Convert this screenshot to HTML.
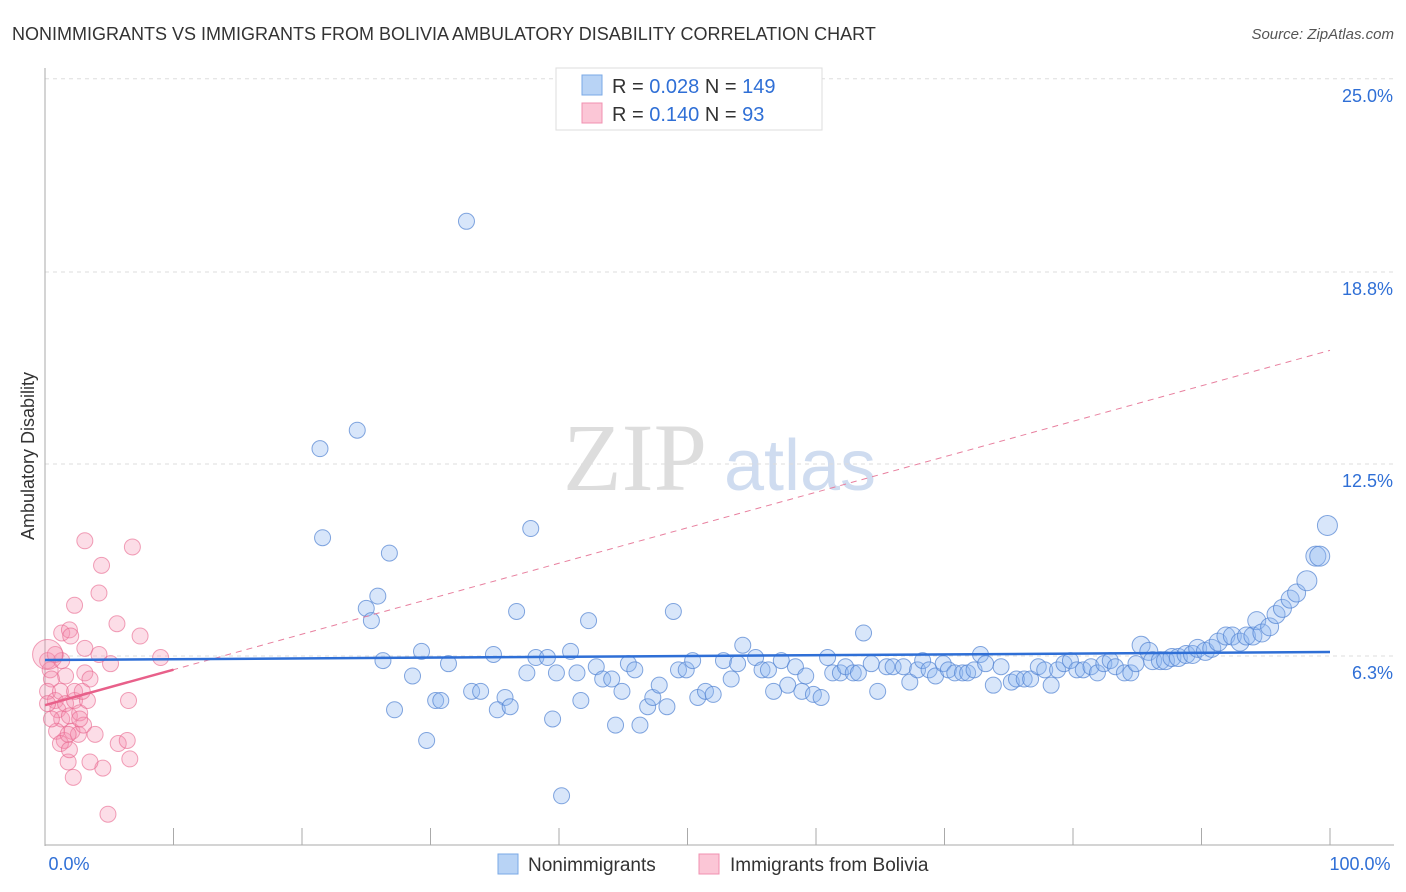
<!DOCTYPE html>
<html><head><meta charset="utf-8">
<style>
body{margin:0;background:#fff;font-family:"Liberation Sans",sans-serif;}
svg{display:block}
</style></head>
<body>
<svg id="chart" width="1406" height="892" xmlns="http://www.w3.org/2000/svg">
<text x="12" y="40" font-size="18" fill="#333">NONIMMIGRANTS VS IMMIGRANTS FROM BOLIVIA AMBULATORY DISABILITY CORRELATION CHART</text>
<text x="1394" y="39" font-size="15" fill="#555" font-style="italic" text-anchor="end">Source: ZipAtlas.com</text>
<text x="0" y="0" transform="translate(34,456) rotate(-90)" font-size="18" fill="#333" text-anchor="middle">Ambulatory Disability</text>
<g>
<text x="635" y="490" font-size="96" fill="#ddd" font-family="Liberation Serif" text-anchor="middle">ZIP</text>
<text x="800" y="490" font-size="72" fill="#cfdcf0" text-anchor="middle">atlas</text>
</g>
<g id="grid"></g>
<g id="axes"></g>
<g id="pink"></g>
<g id="blue"></g>
<g id="lines"></g>
<g>
<rect x="556" y="68" width="266" height="62" fill="#fff" stroke="#ddd"/>
<rect x="582" y="75" width="20" height="20" fill="#b8d3f5" stroke="#7aa8e6"/>
<rect x="582" y="103" width="20" height="20" fill="#fbc6d6" stroke="#f090b0"/>
<text x="612" y="93" font-size="20" fill="#333">R = <tspan fill="#2f6fd6">0.028</tspan>   N = <tspan fill="#2f6fd6">149</tspan></text>
<text x="612" y="121" font-size="20" fill="#333">R =  <tspan fill="#2f6fd6">0.140</tspan>   N =   <tspan fill="#2f6fd6">93</tspan></text>
</g>
<g>
<rect x="498" y="854" width="20" height="20" fill="#b8d3f5" stroke="#7aa8e6"/>
<text x="528" y="871" font-size="19" fill="#333">Nonimmigrants</text>
<rect x="699" y="854" width="20" height="20" fill="#fbc6d6" stroke="#f090b0"/>
<text x="730" y="871" font-size="19" fill="#333">Immigrants from Bolivia</text>
</g>
</svg>
<script>
const yTicks=[6.3,12.5,18.8,25.0];
const yTickLabels=["6.3%","12.5%","18.8%","25.0%"];
const xTickLabels=["0.0%","100.0%"];
const blueX=[32.8,21.4,24.3,21.6,37.8,26.8,25.9,25.0,25.4,36.7,42.3,48.9,26.3,29.3,31.4,28.6,27.2,29.7,30.4,30.8,33.2,33.9,34.9,35.8,35.2,36.2,37.5,38.2,39.1,39.8,39.5,40.2,40.9,41.4,41.7,42.9,43.4,44.1,44.9,44.4,46.3,45.4,45.9,46.9,47.3,47.8,48.4,49.3,49.9,50.4,50.8,51.4,52.0,52.8,53.4,53.9,54.3,55.3,55.8,56.3,56.7,57.3,57.8,58.4,58.9,59.2,59.8,60.4,60.9,61.3,61.9,62.3,62.9,63.3,63.7,64.3,64.8,65.5,66.0,66.8,67.3,67.9,68.3,68.8,69.3,69.9,70.3,70.8,71.4,71.8,72.3,72.8,73.2,73.8,74.4,75.2,75.6,76.2,76.7,77.3,77.8,78.3,78.8,79.3,79.8,80.3,80.8,81.4,81.9,82.4,82.9,83.3,84.0,84.5,84.9,85.3,85.9,86.2,86.8,87.2,87.7,88.2,88.8,89.3,89.7,90.3,90.8,91.3,91.9,92.4,93.0,93.5,94.0,94.3,94.7,95.3,95.8,96.3,96.9,97.4,98.2,98.9,99.2,99.8];
const blueY=[20.4,13.0,13.6,10.1,10.4,9.6,8.2,7.8,7.4,7.7,7.4,7.7,6.1,6.4,6.0,5.6,4.5,3.5,4.8,4.8,5.1,5.1,6.3,4.9,4.5,4.6,5.7,6.2,6.2,5.7,4.2,1.7,6.4,5.7,4.8,5.9,5.5,5.5,5.1,4.0,4.0,6.0,5.8,4.6,4.9,5.3,4.6,5.8,5.8,6.1,4.9,5.1,5.0,6.1,5.5,6.0,6.6,6.2,5.8,5.8,5.1,6.1,5.3,5.9,5.1,5.6,5.0,4.9,6.2,5.7,5.7,5.9,5.7,5.7,7.0,6.0,5.1,5.9,5.9,5.9,5.4,5.8,6.1,5.8,5.6,6.0,5.8,5.7,5.7,5.7,5.8,6.3,6.0,5.3,5.9,5.4,5.5,5.5,5.5,5.9,5.8,5.3,5.8,6.0,6.1,5.8,5.8,5.9,5.7,6.0,6.1,5.9,5.7,5.7,6.0,6.6,6.4,6.1,6.1,6.1,6.2,6.2,6.3,6.3,6.5,6.4,6.5,6.7,6.9,6.9,6.7,6.9,6.9,7.4,7.0,7.2,7.6,7.8,8.1,8.3,8.7,9.5,9.5,10.5];
const pinkX=[3.1,6.8,4.4,4.2,2.3,1.3,1.9,2.0,5.6,7.4,3.1,4.2,5.1,9.0,6.5,5.7,6.4,6.6,4.5,3.5,2.2,1.8,4.9,3.1,3.5,1.6,0.2,0.4,0.5,0.2,0.8,1.2,1.0,1.3,1.6,1.9,2.3,2.7,0.9,1.5,2.1,2.6,3.0,1.2,1.8,0.5,0.2,2.3,3.3,2.9,1.3,0.8,1.9,2.7,3.9,0.2];
const pinkY=[10.0,9.8,9.2,8.3,7.9,7.0,7.1,6.9,7.3,6.9,6.5,6.3,6.0,6.2,4.8,3.4,3.5,2.9,2.6,2.8,2.3,2.8,1.1,5.7,5.5,5.6,6.1,5.8,5.5,5.1,4.8,5.1,4.5,4.2,4.7,4.3,4.8,4.4,3.8,3.5,3.8,3.7,4.0,3.4,3.7,4.2,4.7,5.1,4.8,5.1,6.1,6.3,3.2,4.2,3.7,6.3];
const blueTrend=[6.12,6.38];
const pinkTrend=[4.65,16.2];
const NS="http://www.w3.org/2000/svg";
const X0=45,X1=1330,Y0=848,PY=30.72;
const xs=v=>X0+(X1-X0)*v/100, ys=v=>Y0-v*PY;
function mk(tag,at,parent){const e=document.createElementNS(NS,tag);for(const k in at)e.setAttribute(k,at[k]);parent.appendChild(e);return e;}
const grid=document.getElementById('grid'),axes=document.getElementById('axes');
yTicks.forEach((t,i)=>{
 const g=mk('line',{x1:X0,x2:1394,y1:ys(t===25?25.04:t===18.8?18.75:t===12.5?12.5:6.25),y2:ys(t===25?25.04:t===18.8?18.75:t===12.5?12.5:6.25),stroke:'#ddd','stroke-dasharray':'4,4'},grid);
 
 
 const tx=mk('text',{x:1393,y:ys(t===25?25.04:t===18.8?18.75:t===12.5?12.5:6.25)+23,'font-size':18,fill:'#2f6fd6','text-anchor':'end'},axes);
 tx.textContent=yTickLabels[i];
 
 
});
const ax=mk('line',{x1:X0,x2:X0,y1:68,y2:846,stroke:'#aaa'},axes);


const bx=mk('line',{x1:X0,x2:1394,y1:845,y2:845,stroke:'#aaa'},axes);


for(let i=0;i<=10;i++){const t=mk('line',{x1:xs(i*10),x2:xs(i*10),y1:828,y2:845,stroke:'#aaa'},axes);
 
 }
[[X0+24,xTickLabels[0]],[1360,xTickLabels[1]]].forEach(p=>{const t=mk('text',{x:p[0],y:870,'font-size':18,fill:'#2f6fd6','text-anchor':'middle'},axes);t.textContent=p[1];
 
 });
const pg=document.getElementById('pink');
pinkX.forEach((v,i)=>{const r=(i===pinkX.length-1)?15:8;const c=mk('circle',{cx:xs(v),cy:ys(pinkY[i]),r:r,fill:'rgba(244,143,177,0.3)',stroke:'rgba(232,100,140,0.6)','stroke-width':1},pg);
 
 });
const bg=document.getElementById('blue');
blueX.forEach((v,i)=>{const r=v>98?10:v>85?9:8;const c=mk('circle',{cx:xs(v),cy:ys(blueY[i]),r:r,fill:'rgba(143,184,240,0.35)',stroke:'rgba(80,130,210,0.7)','stroke-width':1},bg);
 
 });
const lg=document.getElementById('lines');
const pd=mk('line',{x1:xs(0),y1:ys(pinkTrend[0]),x2:xs(100),y2:ys(pinkTrend[1]),stroke:'#e8809f','stroke-width':1,'stroke-dasharray':'6,5'},lg);


const ps=mk('line',{x1:xs(0),y1:ys(pinkTrend[0]),x2:xs(10),y2:ys(pinkTrend[0]+(pinkTrend[1]-pinkTrend[0])*0.1),stroke:'#e8608a','stroke-width':2.5},lg);


const bl=mk('line',{x1:xs(0),y1:ys(blueTrend[0]),x2:xs(100),y2:ys(blueTrend[1]),stroke:'#2f6fd6','stroke-width':2.5},lg);


</script>
</body></html>
